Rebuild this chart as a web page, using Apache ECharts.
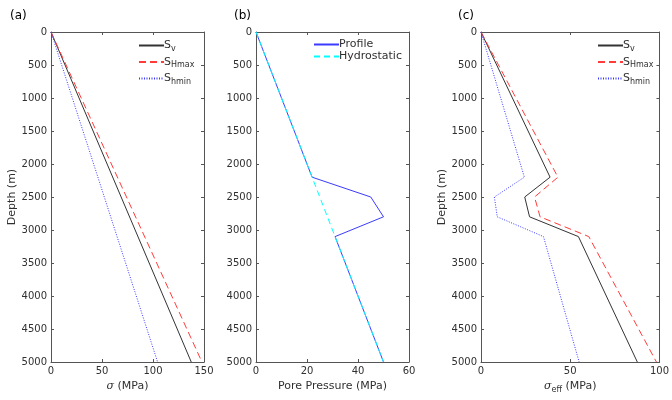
<!DOCTYPE html>
<html>
<head>
<meta charset="utf-8">
<script src="https://cdn.jsdelivr.net/npm/echarts@6/dist/echarts.min.js"></script>
<style>
  html, body { margin: 0; padding: 0; background: #fff; }
  #main { width: 672px; height: 400px; }
</style>
</head>
<body>
<div id="main"></div>
<script>
// depth (m) for each panel
var depthA = [0, 5000];
var depthB = [0, 2200, 2500, 2800, 3100, 5000];
var depthHydro = [0, 5000];
var depthC = [0, 2200, 2500, 2800, 3100, 5000];

// (a) total stresses (MPa)
var svA = [0, 137.5];
var shmaxA = [0, 148];
var shminA = [0, 104.5];

// (b) pore pressure (MPa)
var profileB = [0, 22, 45, 50, 31, 50];
var hydroB = [0, 50];

// (c) effective stresses (MPa)
var svC = [0, 38.7, 24.5, 27.2, 54.6, 87.6];
var shmaxC = [0, 43.1, 30, 33.1, 60.4, 98.3];
var shminC = [0, 24.3, 7.5, 9.1, 35, 55];

var depthTicks = [0, 5000, 500];
var xTicksA = [0, 150, 50];
var xTicksB = [0, 60, 20];
var xTicksC = [0, 100, 50];

function pairs(xs, ys) {
  var out = [];
  for (var i = 0; i < xs.length; i++) out.push([xs[i], ys[i]]);
  return out;
}

var font = 'DejaVu Sans';
var txt = '#303030';
var axisCol = '#555';

function xAx(idx, t, name, top) {
  return {
    type: 'value', gridIndex: idx, position: top ? 'top' : 'bottom',
    min: t[0], max: t[1], interval: t[2],
    name: top ? '' : name, nameLocation: 'middle', nameGap: 17,
    nameTextStyle: {
      fontFamily: font, fontSize: 11, color: txt,
      rich: {
        g: { fontFamily: 'DejaVu Serif', fontStyle: 'italic', fontSize: 11, color: txt },
        s: { fontFamily: font, fontSize: 8, color: txt, padding: [7, 0, 0, 0] },
        n: { fontFamily: font, fontSize: 11, color: txt }
      }
    },
    axisLine: { show: true, onZero: false, lineStyle: { color: axisCol, width: 1 } },
    axisTick: { show: true, inside: true, length: 3, lineStyle: { color: axisCol } },
    axisLabel: { show: !top, fontFamily: font, fontSize: 10, color: txt, margin: 4,
      formatter: function (v) { return String(v); } },
    splitLine: { show: false }
  };
}

function yAx(idx, showName, right) {
  return {
    type: 'value', gridIndex: idx, position: right ? 'right' : 'left', inverse: true,
    min: depthTicks[0], max: depthTicks[1], interval: depthTicks[2],
    name: (showName && !right) ? 'Depth (m)' : '', nameLocation: 'middle', nameGap: 33,
    nameRotate: 90,
    nameTextStyle: { fontFamily: font, fontSize: 11, color: txt },
    axisLine: { show: true, onZero: false, lineStyle: { color: axisCol, width: 1 } },
    axisTick: { show: true, inside: true, length: 3, lineStyle: { color: axisCol } },
    axisLabel: { show: !right, fontFamily: font, fontSize: 10, color: txt, margin: 4,
      formatter: function (v) { return String(v); } },
    splitLine: { show: false }
  };
}

var labels = {
  'Sv': '{m|S}{s|v}',
  'SHmax': '{m|S}{s|Hmax}',
  'Shmin': '{m|S}{s|hmin}',
  'Profile': '{m|Profile}',
  'Hydrostatic': '{m|Hydrostatic}'
};

function legend(left, top, names, gap) {
  return {
    left: left, top: top, orient: 'vertical', itemWidth: 25, itemHeight: 10,
    itemGap: gap, padding: 0, selectedMode: false, data: names,
    itemStyle: { opacity: 0 },
    formatter: function (n) { return labels[n]; },
    textStyle: {
      fontFamily: font, fontSize: 11, color: txt, padding: [0, 0, 0, -5],
      rich: {
        m: { fontFamily: font, fontSize: 11, color: txt },
        s: { fontFamily: font, fontSize: 8, color: txt, padding: [6, 0, 0, 0] }
      }
    }
  };
}

function line(name, xi, yi, data, color, type, z) {
  return {
    name: name, type: 'line', xAxisIndex: xi, yAxisIndex: yi, data: data,
    symbol: 'none', animation: false, z: z || 2,
    lineStyle: { color: color, width: 1, type: type },
    itemStyle: { color: color }
  };
}

var option = {
  backgroundColor: '#fff',
  animation: false,
  title: [
    { text: '(a)', left: 5, top: 5, textStyle: { fontFamily: font, fontSize: 12, fontWeight: 'normal', color: '#000' } },
    { text: '(b)', left: 229, top: 5, textStyle: { fontFamily: font, fontSize: 12, fontWeight: 'normal', color: '#000' } },
    { text: '(c)', left: 453, top: 5, textStyle: { fontFamily: font, fontSize: 12, fontWeight: 'normal', color: '#000' } }
  ],
  grid: [
    { left: 51, top: 32, width: 153, height: 330 },
    { left: 256, top: 32, width: 153, height: 330 },
    { left: 481, top: 32, width: 183, height: 330 }
  ],
  xAxis: [
    xAx(0, xTicksA, '{g|σ}{n| (MPa)}', false),
    xAx(0, xTicksA, '', true),
    xAx(1, xTicksB, 'Pore Pressure (MPa)', false),
    xAx(1, xTicksB, '', true),
    xAx(2, xTicksC, '{g|σ}{s|eff}{n| (MPa)}', false),
    xAx(2, xTicksC, '', true)
  ],
  yAxis: [
    yAx(0, true, false), yAx(0, false, true),
    yAx(1, false, false), yAx(1, false, true),
    yAx(2, true, false), yAx(2, false, true)
  ],
  legend: [
    legend(138, 40, ['Sv', 'SHmax', 'Shmin'], 4),
    legend(313, 39, ['Profile', 'Hydrostatic'], 1),
    legend(597, 40, ['Sv', 'SHmax', 'Shmin'], 4)
  ],
  series: [
    line('Sv', 0, 0, pairs(svA, depthA), '#333', 'solid'),
    line('SHmax', 0, 0, pairs(shmaxA, depthA), '#ff3b3b', [7, 4]),
    line('Shmin', 0, 0, pairs(shminA, depthA), '#3a3aff', [1, 1.5]),
    line('Profile', 2, 2, pairs(profileB, depthB), '#3b3bff', 'solid'),
    line('Hydrostatic', 2, 2, pairs(hydroB, depthHydro), '#00ffff', [6, 4], 3),
    line('Sv', 4, 4, pairs(svC, depthC), '#333', 'solid'),
    line('SHmax', 4, 4, pairs(shmaxC, depthC), '#ff3b3b', [7, 4]),
    line('Shmin', 4, 4, pairs(shminC, depthC), '#3a3aff', [1, 1.5])
  ]
};

var chart = echarts.init(document.getElementById('main'), null, { renderer: 'canvas' });
chart.setOption(option);
</script>
</body>
</html>
